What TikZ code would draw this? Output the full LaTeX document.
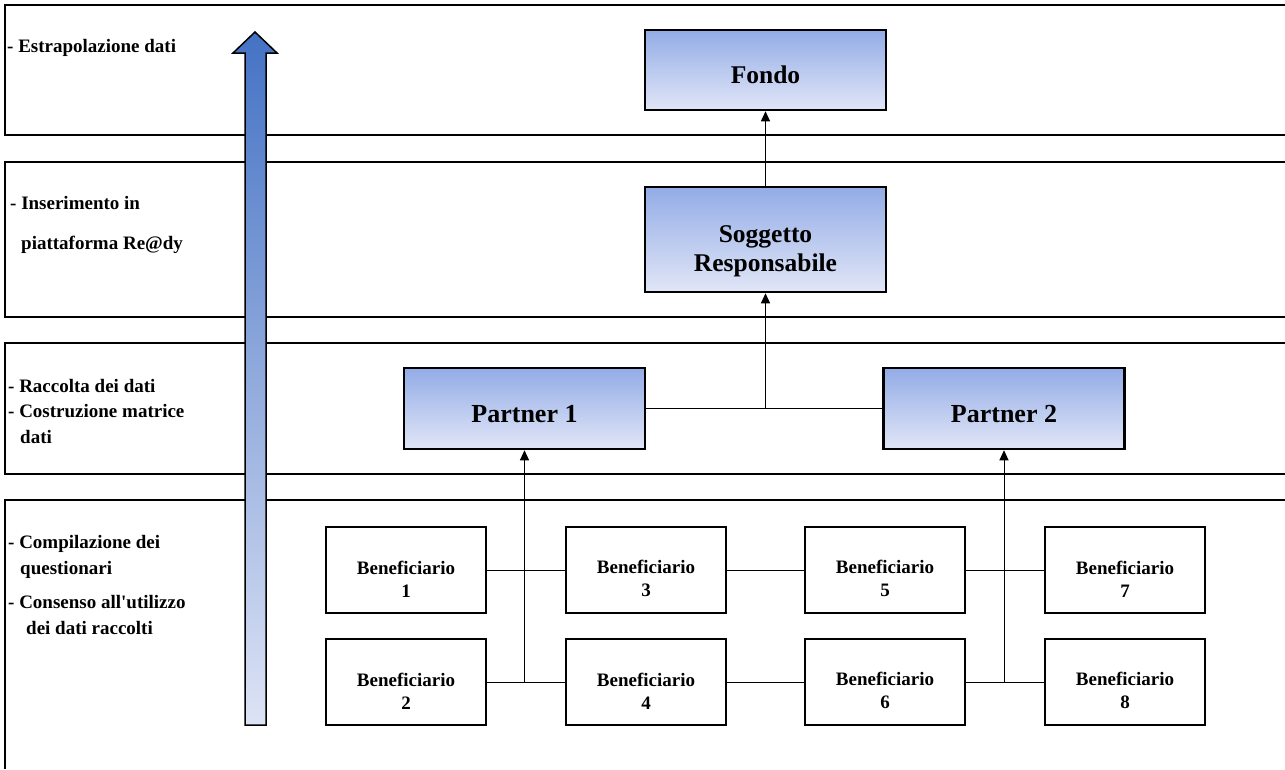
\documentclass[tikz,border=0pt]{standalone}
\usepackage{fontspec}
\setmainfont{Liberation Serif}
\usetikzlibrary{arrows.meta}

\definecolor{boxtop}{HTML}{93ACE6}
\definecolor{boxbot}{HTML}{E1E6F7}
\definecolor{arrowtop}{HTML}{4472C4}
\definecolor{arrowbot}{HTML}{DDE3F5}

% распорка для сдвига текста вниз
\newcommand{\spinta}[1]{\rule{0pt}{#1}}

\tikzset{
  fascia/.style={line width=2pt},
  blu/.style={draw, line width=2.5pt, top color=boxtop, bottom color=boxbot, minimum width=241pt, inner sep=0pt, align=center, font=\fontsize{25.5}{29}\selectfont\bfseries},
  benef/.style={draw, line width=1.8pt, minimum width=160pt, minimum height=86pt, inner sep=0pt, align=center, font=\fontsize{19}{23}\selectfont\bfseries},
  etichetta/.style={anchor=base west, inner sep=0pt, font=\fontsize{19}{23}\selectfont\bfseries},
  linea/.style={line width=1pt},
  freccia/.style={line width=1pt, -{Triangle[length=10pt,width=9pt]}}
}

\begin{document}
\begin{tikzpicture}[x=1pt, y=-1pt]
  \useasboundingbox (0,0) rectangle (1285,769);

  % Фасады (полосы)
  \draw[fascia] (1285,5) -| (5,135) -- (1285,135);
  \draw[fascia] (1285,162) -| (5,317) -- (1285,317);
  \draw[fascia] (1285,343) -| (5,474) -- (1285,474);
  \draw[fascia] (1285,500) -| (5,769);

  % Подписи слева
  \node[etichetta] (l1) at (7,52) {- Estrapolazione dati};
  \node[etichetta] (l2a) at (10,209) {- Inserimento in};
  \node[etichetta] (l2b) at (21,249) {piattaforma Re@dy};
  \node[etichetta] (l3a) at (8,392) {- Raccolta dei dati};
  \node[etichetta] (l3b) at (8,417) {- Costruzione matrice};
  \node[etichetta] (l3c) at (20,443) {dati};
  \node[etichetta] (l4a) at (8,548) {- Compilazione dei};
  \node[etichetta] (l4b) at (20,574) {questionari};
  \node[etichetta] (l4c) at (8,608) {- Consenso all\textquotesingle utilizzo};
  \node[etichetta] (l4d) at (26,634) {dei dati raccolti};

  % Большая стрелка
  \shadedraw[draw=black, line width=1.5pt, top color=arrowtop, bottom color=arrowbot]
    (245,725) -- (245,53) -- (233,53) -- (255,32) -- (277,53) -- (266,53) -- (266,725) -- cycle;

  % Блоки
  \node[blu, minimum height=80pt] (fondo) at (765.5,70) {\spinta{28pt}Fondo};
  \node[blu, minimum height=105pt] (sr) at (765.5,239.5) {\spinta{39.5pt}Soggetto\\Responsabile};
  \node[blu, minimum height=81pt, font=\fontsize{26}{30}\selectfont\bfseries] (p1) at (524.5,408.5) {\spinta{29pt}Partner 1};
  \node[blu, minimum height=81pt, font=\fontsize{26}{30}\selectfont\bfseries] (p2) at (1004,408.5) {\spinta{29pt}Partner 2};

  \node[benef] (b1) at (406,570) {\spinta{31pt}Beneficiario\\1};
  \node[benef] (b2) at (406,682) {\spinta{31pt}Beneficiario\\2};
  \node[benef] (b3) at (646,570) {\spinta{31pt}Beneficiario\\3};
  \node[benef] (b4) at (646,682) {\spinta{31pt}Beneficiario\\4};
  \node[benef] (b5) at (885,570) {\spinta{31pt}Beneficiario\\5};
  \node[benef] (b6) at (885,682) {\spinta{31pt}Beneficiario\\6};
  \node[benef] (b7) at (1125,570) {\spinta{31pt}Beneficiario\\7};
  \node[benef] (b8) at (1125,682) {\spinta{31pt}Beneficiario\\8};

  % Связи
  \draw[freccia] (sr.north) -- (fondo.south);
  \draw[linea] (p1) -- (p2);
  \draw[freccia] (sr.south |- p1.east) -- (sr.south);

  \draw[linea] (b1) -- (b3);
  \draw[linea] (b3) -- (b5);
  \draw[linea] (b5) -- (b7);
  \draw[linea] (b2) -- (b4);
  \draw[linea] (b4) -- (b6);
  \draw[linea] (b6) -- (b8);
  \draw[freccia] (p1.south |- b2.east) -- (p1.south);
  \draw[freccia] (p2.south |- b6.east) -- (p2.south);
\end{tikzpicture}
\end{document}
